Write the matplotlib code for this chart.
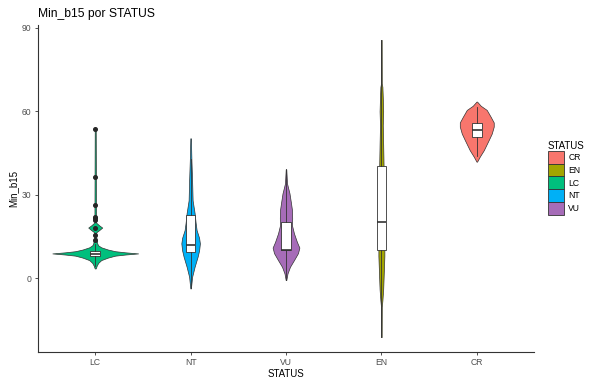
import numpy as np
import matplotlib
matplotlib.use('Agg')
import matplotlib.pyplot as plt
from matplotlib.patches import Patch

plt.rcParams['font.family'] = ['Liberation Sans', 'DejaVu Sans']

# Orden en el eje x y en la leyenda
orden_x = ['LC', 'NT', 'VU', 'EN', 'CR']
orden_leyenda = ['CR', 'EN', 'LC', 'NT', 'VU']
colores = {'CR': '#F8766D', 'EN': '#A3A500', 'LC': '#00BF7D',
           'NT': '#00B0F6', 'VU': '#A66CB8'}

# Perfiles de densidad de los violines (valor de Min_b15, densidad relativa)
lc_y = [3.5, 4.5, 5.5, 6.5, 7.4, 8.1, 8.5, 8.9, 9.3, 9.7, 10.3, 11.1, 11.8, 12.5,
        13.5, 15.0, 16.5, 17.3, 18.2, 19.0, 20.0, 53.7]
lc_d = [0.5, 1.5, 3, 6, 12.7, 20, 30, 43, 30, 20, 12.7, 6, 3, 2,
        1.5, 1, 1, 4, 7, 4, 0.8, 0.5]

nt_y = [-3.7, 0.5, 4.1, 7.7, 10.0, 12.5, 14.5, 17.3, 20.0, 23.4, 28.0, 35.0, 42.5, 50.3]
nt_d = [0.3, 1.5, 4, 7, 8.5, 9.3, 8.5, 6, 5, 4, 2, 1.5, 0.8, 0.3]

vu_y = [-0.7, 1.7, 4.1, 6.5, 9.0, 11.0, 13.0, 16.1, 19.0, 21.5, 24.5, 27.0, 30.5, 34.1, 39.1]
vu_d = [0.3, 1.5, 4, 8, 12, 13.4, 11, 8, 6, 6.2, 6, 5, 3.5, 1, 0.3]

en_y = [-21.2, -10.3, -8.0, -4.0, 0.0, 4.0, 8.0, 10.0, 20.0, 40.0, 48.0, 55.0,
        60.0, 65.0, 68.8, 70.0, 85.7]
en_d = [0.3, 0.4, 1.0, 1.8, 2.2, 2.6, 3, 3, 2.2, 2.2, 1.8, 1.4, 1.8, 1.4, 1.0, 0.4, 0.3]

cr_y = [41.9, 43.7, 46.0, 49.7, 52.0, 54.5, 56.0, 58.0, 60.5, 62.0, 63.5]
cr_d = [0.3, 3, 7, 12, 15, 17, 17, 14, 10, 4, 0.3]

perfiles = {'LC': (lc_y, lc_d), 'NT': (nt_y, nt_d), 'VU': (vu_y, vu_d),
            'EN': (en_y, en_d), 'CR': (cr_y, cr_d)}

# Estadisticos de las cajas
q1 = {'LC': 7.9, 'NT': 9.5, 'VU': 10.1, 'EN': 10.1, 'CR': 50.9}
mediana = {'LC': 8.8, 'NT': 11.9, 'VU': 10.3, 'EN': 20.3, 'CR': 53.3}
q3 = {'LC': 9.8, 'NT': 22.7, 'VU': 20.3, 'EN': 40.3, 'CR': 55.7}
bigote_inf = {'LC': 4.5, 'NT': -3.7, 'VU': -0.7, 'EN': -21.2, 'CR': 44.0}
bigote_sup = {'LC': 12.3, 'NT': 43.0, 'VU': 39.1, 'EN': 85.7, 'CR': 61.5}
atipicos = {'LC': [13.7, 15.5, 18.2, 20.9, 21.5, 22.1, 26.3, 36.3, 53.7],
            'NT': [], 'VU': [], 'EN': [], 'CR': []}

fig = plt.figure(figsize=(5.96, 3.78), dpi=100)
ax = fig.add_axes([38 / 596, 26 / 378, (534 - 38) / 596, (352 - 25) / 378])

# Violines (escala por area: el mas denso ocupa 0.45 a cada lado)
dmax = max(max(d) for _, d in perfiles.values())
for i, s in enumerate(orden_x, start=1):
    y, d = perfiles[s]
    w = 0.45 * np.array(d) / dmax
    ax.fill_betweenx(y, i - w, i + w, facecolor=colores[s], edgecolor='#333333',
                     linewidth=0.5, zorder=2)

# Cajas
stats = []
for s in orden_x:
    stats.append({'q1': q1[s], 'med': mediana[s], 'q3': q3[s],
                  'whislo': bigote_inf[s], 'whishi': bigote_sup[s],
                  'fliers': atipicos[s]})
ax.bxp(stats, positions=range(1, 6), widths=0.1, patch_artist=True,
       showcaps=False, manage_ticks=False,
       boxprops=dict(facecolor='white', edgecolor='#333333', linewidth=0.6),
       medianprops=dict(color='#333333', linewidth=1.2),
       whiskerprops=dict(color='#333333', linewidth=0.6),
       flierprops=dict(marker='o', markerfacecolor='#262626', markeredgecolor='#262626',
                       markersize=2.6),
       zorder=3)

todos = [v for y, _ in perfiles.values() for v in y]
lo, hi = min(todos), max(todos)
pad = 0.05 * (hi - lo)
ax.set_ylim(lo - pad, hi + pad)
ax.set_xlim(0.4, 5.6)
ax.set_xticks(range(1, 6))
ax.set_xticklabels(orden_x)
ax.set_yticks([0, 30, 60, 90])

for lado in ['top', 'right']:
    ax.spines[lado].set_visible(False)
for lado in ['left', 'bottom']:
    ax.spines[lado].set_color('#333333')
    ax.spines[lado].set_linewidth(0.8)
ax.tick_params(colors='#333333', labelcolor='#4D4D4D', labelsize=6.2, length=2.5,
               width=0.6, pad=2)

ax.set_xlabel('STATUS', fontsize=7, labelpad=1)
ax.set_ylabel('Min_b15', fontsize=7, labelpad=3)
ax.set_title('Min_b15 por STATUS', loc='left', fontsize=8.7, pad=6)

handles = [Patch(facecolor=colores[s], edgecolor='#333333', linewidth=0.6)
           for s in orden_leyenda]
fig.legend(handles, orden_leyenda, title='STATUS', loc='upper left',
           bbox_to_anchor=(548 / 596, 1 - 141 / 378), frameon=False,
           fontsize=6.2, title_fontsize=7, handlelength=1.9, handleheight=1.9,
           labelspacing=0.0, handletextpad=0.45, borderpad=0, borderaxespad=0,
           alignment='left')

fig.savefig('out.png', dpi=100)
